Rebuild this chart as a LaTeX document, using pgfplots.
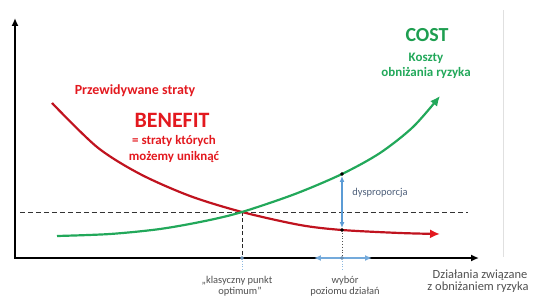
\documentclass[border=0pt]{standalone}
\usepackage{pgfplots}
\pgfplotsset{compat=1.18}
\usepackage{fontspec}
\setmainfont{Carlito}
\usetikzlibrary{arrows.meta}
\definecolor{redc}{HTML}{C0131F}
\definecolor{redt}{HTML}{E3191F}
\definecolor{greenc}{HTML}{22A85A}
\definecolor{greent}{HTML}{1E9E50}
\definecolor{blu}{HTML}{5B9BD5}
\definecolor{gr}{HTML}{505050}
\definecolor{dys}{HTML}{4D5F7A}
\begin{document}
\begin{tikzpicture}
\begin{axis}[name=ax, scale only axis, width=535bp, height=300bp,
  xmin=0, xmax=535, ymin=0, ymax=300, y dir=reverse, hide axis, clip=false]
% light frame line at right
\addplot[color=black!12, line width=0.8pt] coordinates {(503,10) (503,257)};
% axes
\addplot[black, line width=2pt, -{Latex[length=8pt,width=7pt]}] coordinates {(15,258) (15,18)};
\addplot[black, line width=2pt, -{Latex[length=8pt,width=7pt]}] coordinates {(14,258) (479,258)};
% dashed horizontal
\addplot[black!80, line width=1pt, dash pattern=on 5pt off 3pt] coordinates {(20,212) (468,212)};
% vertical dashed at optimum
\addplot[black!85, line width=1pt, dash pattern=on 4pt off 2.5pt] coordinates {(242,212) (242,258)};
\addplot[blu!70, line width=0.8pt, dotted] coordinates {(242,258) (242,271)};
% vertical dotted at choice
\addplot[gr, line width=0.8pt, dotted] coordinates {(342,230) (342,258)};
\addplot[blu!70, line width=0.8pt, dotted] coordinates {(342,258) (342,271)};
% red curve
\addplot[redc, line width=2.2pt, smooth, -{Latex[length=10pt,width=9pt,color=redt]}] coordinates {
(52,103) (97,147) (140,174) (190,196) (242,212) (300,225) (342,230) (400,233) (440,234)};
% green curve
\addplot[greenc, line width=2.2pt, smooth, -{Latex[length=10pt,width=9pt]}] coordinates {
(57,236) (110,234) (160,229) (205,221) (242,212) (295,194) (342,174) (380,153) (413,127) (440,96)};
% blue arrows
\addplot[blu, line width=1.5pt, {Latex[length=6pt,width=5pt]}-{Latex[length=6pt,width=5pt]}] coordinates {(342,176) (342,228)};
\addplot[blu!85, line width=2.2pt, {Latex[length=7pt,width=6pt]}-{Latex[length=7pt,width=6pt]}] coordinates {(314,258) (372,258)};
\addplot[only marks, mark=*, mark size=1.6pt, black] coordinates {(342,174) (342,230)};
\addplot[only marks, mark=*, mark size=1.6pt, blu!60!gray] coordinates {(342,258) (242,258)};
% texts
\node[redt, font=\fontsize{14}{16}\selectfont\bfseries] at (axis cs:135,91) {Przewidywane straty};
\node[redt, font=\fontsize{22}{24}\selectfont\bfseries] at (axis cs:172,120) {BENEFIT};
\node[redt, font=\fontsize{13}{15}\selectfont\bfseries] at (axis cs:174,141) {= straty których};
\node[redt, font=\fontsize{13}{15}\selectfont\bfseries] at (axis cs:174,157) {możemy uniknąć};
\node[greent, font=\fontsize{20}{22}\selectfont\bfseries] at (axis cs:427,35) {COST};
\node[greenc, font=\fontsize{13}{15}\selectfont\bfseries] at (axis cs:426,58) {Koszty};
\node[greenc, font=\fontsize{13}{15}\selectfont\bfseries] at (axis cs:426,73) {obniżania ryzyka};
\node[dys, font=\fontsize{10.5}{12}\selectfont] at (axis cs:380,193) {dysproporcja};
\node[gr, font=\fontsize{12.5}{14}\selectfont] at (axis cs:480,275) {Działania związane};
\node[gr, font=\fontsize{12.5}{14}\selectfont] at (axis cs:478,287) {z obniżaniem ryzyka};
\node[gr, font=\fontsize{10.5}{12}\selectfont] at (axis cs:237,281) {„klasyczny punkt};
\node[gr, font=\fontsize{10.5}{12}\selectfont] at (axis cs:240,292) {optimum”};
\node[gr, font=\fontsize{10.5}{12}\selectfont] at (axis cs:345,281) {wybór};
\node[gr, font=\fontsize{10.5}{12}\selectfont] at (axis cs:345,292) {poziomu działań};
\end{axis}
\pgfresetboundingbox
\path[use as bounding box] (ax.south west) rectangle (ax.north east);
\end{tikzpicture}
\end{document}
